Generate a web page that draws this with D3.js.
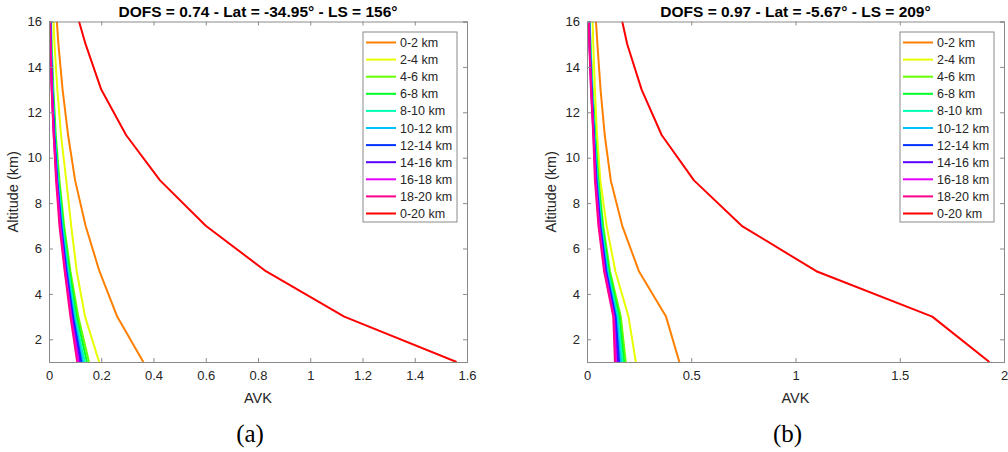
<!DOCTYPE html>
<html>
<head>
<meta charset="utf-8">
<script src="https://cdn.jsdelivr.net/npm/d3@7"></script>
<style>
  html, body { margin: 0; padding: 0; background: #fff; }
  svg { display: block; }
</style>
</head>
<body>
<svg id="chart" width="1008" height="452"></svg>
<script>
// Retrieval levels (km) at which each averaging kernel is sampled
const altitudes = [1, 3, 5, 7, 9, 11, 13, 15, 17];

// Kernel partial-column layers and their line colours
const layers = ["0-2 km", "2-4 km", "4-6 km", "6-8 km", "8-10 km", "10-12 km",
                "12-14 km", "14-16 km", "16-18 km", "18-20 km", "0-20 km"];
const layerColors = ["#ff8000", "#e8ff00", "#66ff00", "#00ff26", "#00ffb3", "#00bfff",
                     "#0033ff", "#5900ff", "#e600ff", "#ff008c", "#ff0000"];

// Panel (a): one row per layer, values at each altitude
const avkA = [
  [0.361, 0.261, 0.193, 0.140, 0.100, 0.073, 0.052, 0.036, 0.024],
  [0.192, 0.138, 0.106, 0.085, 0.066, 0.046, 0.032, 0.021, 0.014],
  [0.153, 0.112, 0.082, 0.058, 0.040, 0.026, 0.017, 0.010, 0.006],
  [0.145, 0.106, 0.078, 0.055, 0.037, 0.024, 0.015, 0.009, 0.005],
  [0.137, 0.100, 0.074, 0.052, 0.035, 0.022, 0.014, 0.008, 0.005],
  [0.130, 0.096, 0.070, 0.049, 0.033, 0.021, 0.013, 0.007, 0.004],
  [0.124, 0.092, 0.067, 0.047, 0.031, 0.020, 0.012, 0.007, 0.004],
  [0.118, 0.088, 0.064, 0.045, 0.030, 0.019, 0.011, 0.006, 0.003],
  [0.113, 0.085, 0.062, 0.043, 0.029, 0.018, 0.011, 0.006, 0.003],
  [0.108, 0.082, 0.060, 0.040, 0.027, 0.018, 0.010, 0.005, 0.003],
  [1.560, 1.130, 0.830, 0.600, 0.425, 0.295, 0.200, 0.140, 0.090]
];

// Panel (b)
const avkB = [
  [0.443, 0.379, 0.249, 0.169, 0.114, 0.085, 0.065, 0.050, 0.036],
  [0.234, 0.199, 0.136, 0.094, 0.064, 0.048, 0.038, 0.030, 0.024],
  [0.186, 0.162, 0.110, 0.078, 0.056, 0.040, 0.027, 0.017, 0.010],
  [0.178, 0.155, 0.105, 0.074, 0.053, 0.038, 0.025, 0.016, 0.009],
  [0.170, 0.148, 0.100, 0.070, 0.050, 0.036, 0.024, 0.015, 0.009],
  [0.162, 0.142, 0.096, 0.067, 0.047, 0.034, 0.023, 0.014, 0.008],
  [0.154, 0.137, 0.092, 0.064, 0.045, 0.033, 0.022, 0.013, 0.008],
  [0.147, 0.132, 0.089, 0.061, 0.043, 0.032, 0.021, 0.012, 0.007],
  [0.140, 0.129, 0.085, 0.058, 0.041, 0.031, 0.020, 0.012, 0.007],
  [0.134, 0.126, 0.082, 0.055, 0.038, 0.030, 0.019, 0.011, 0.007],
  [1.930, 1.656, 1.100, 0.742, 0.513, 0.358, 0.262, 0.193, 0.145]
];

const titles = ["DOFS = 0.74 - Lat = -34.95\u00b0 - LS = 156\u00b0",
                "DOFS = 0.97 - Lat = -5.67\u00b0 - LS = 209\u00b0"];
const captions = ["(a)", "(b)"];
const xTicksA = [0, 0.2, 0.4, 0.6, 0.8, 1, 1.2, 1.4, 1.6];
const xTicksB = [0, 0.5, 1, 1.5, 2];
const yTicks = [2, 4, 6, 8, 10, 12, 14, 16];

const svg = d3.select("#chart");
const axisColor = "#8a8a8a";
const textColor = "#262626";
const sans = "'Liberation Sans', Arial, Helvetica, sans-serif";

function drawPanel(id, frame, values, xMax, xTicks, title, caption) {
  const x = d3.scaleLinear().domain([0, xMax]).range([frame.left, frame.right]);
  const y = d3.scaleLinear().domain([1, 16]).range([frame.bottom, frame.top]);
  const g = svg.append("g");

  g.append("clipPath").attr("id", "clip" + id)
    .append("rect")
    .attr("x", frame.left).attr("y", frame.top)
    .attr("width", frame.right - frame.left).attr("height", frame.bottom - frame.top);

  // kernel profiles
  const line = d3.line().x(d => x(d[0])).y(d => y(d[1]));
  const lines = g.append("g").attr("clip-path", `url(#clip${id})`);
  values.forEach((row, i) => {
    lines.append("path")
      .datum(row.map((v, k) => [v, altitudes[k]]))
      .attr("d", line)
      .attr("fill", "none")
      .attr("stroke", layerColors[i])
      .attr("stroke-width", 2)
      .attr("stroke-linejoin", "round");
  });

  // axes with inward ticks on all four sides
  const tick = 4;
  const fmt = d3.format("~g");
  const axB = d3.axisBottom(x).tickValues(xTicks).tickSize(-tick).tickPadding(9).tickFormat(fmt);
  const axT = d3.axisTop(x).tickValues(xTicks).tickSize(-tick).tickFormat("");
  const axL = d3.axisLeft(y).tickValues(yTicks).tickSize(-tick).tickPadding(7).tickFormat(fmt);
  const axR = d3.axisRight(y).tickValues(yTicks).tickSize(-tick).tickFormat("");

  const style = sel => {
    sel.selectAll("path.domain").attr("stroke", axisColor);
    sel.selectAll(".tick line").attr("stroke", axisColor);
    sel.selectAll(".tick text").attr("fill", textColor)
      .style("font-family", sans).style("font-size", "13px");
  };
  g.append("g").attr("transform", `translate(0,${frame.bottom})`).call(axB).call(style);
  g.append("g").attr("transform", `translate(0,${frame.top})`).call(axT).call(style);
  g.append("g").attr("transform", `translate(${frame.left},0)`).call(axL).call(style);
  g.append("g").attr("transform", `translate(${frame.right},0)`).call(axR).call(style);
  g.selectAll(".domain").attr("stroke-width", 1);

  // title and axis labels
  const cx = (frame.left + frame.right) / 2;
  g.append("text").attr("x", cx).attr("y", 17).attr("text-anchor", "middle")
    .style("font-family", sans).style("font-size", "15.5px").style("font-weight", "bold")
    .attr("fill", "#000").text(title);
  g.append("text").attr("x", cx).attr("y", 403).attr("text-anchor", "middle")
    .style("font-family", sans).style("font-size", "14.5px").attr("fill", textColor).text("AVK");
  g.append("text")
    .attr("transform", `translate(${frame.left - 31},${(frame.top + frame.bottom) / 2}) rotate(-90)`)
    .attr("text-anchor", "middle")
    .style("font-family", sans).style("font-size", "14.5px").attr("fill", textColor)
    .text("Altitude (km)");
  g.append("text").attr("x", cx - 8).attr("y", 442).attr("text-anchor", "middle")
    .style("font-family", "'Liberation Serif', 'DejaVu Serif', serif").style("font-size", "25px")
    .attr("fill", "#000").text(caption);

  // legend
  const lg = g.append("g").attr("transform", `translate(${frame.right - 104},32)`);
  lg.append("rect").attr("x", 0).attr("y", 0).attr("width", 94).attr("height", 190)
    .attr("fill", "#fff").attr("stroke", axisColor).attr("stroke-width", 1);
  layers.forEach((name, i) => {
    const yy = 10.5 + i * 17.1;
    lg.append("line").attr("x1", 3).attr("x2", 33).attr("y1", yy).attr("y2", yy)
      .attr("stroke", layerColors[i]).attr("stroke-width", 2);
    lg.append("text").attr("x", 37).attr("y", yy + 4.5)
      .style("font-family", sans).style("font-size", "12.5px").attr("fill", textColor).text(name);
  });
}

drawPanel("a", { left: 49, right: 467, top: 21.5, bottom: 362 }, avkA, 1.6, xTicksA, titles[0], captions[0]);
drawPanel("b", { left: 587, right: 1004, top: 21.5, bottom: 362 }, avkB, 2, xTicksB, titles[1], captions[1]);
</script>
</body>
</html>
